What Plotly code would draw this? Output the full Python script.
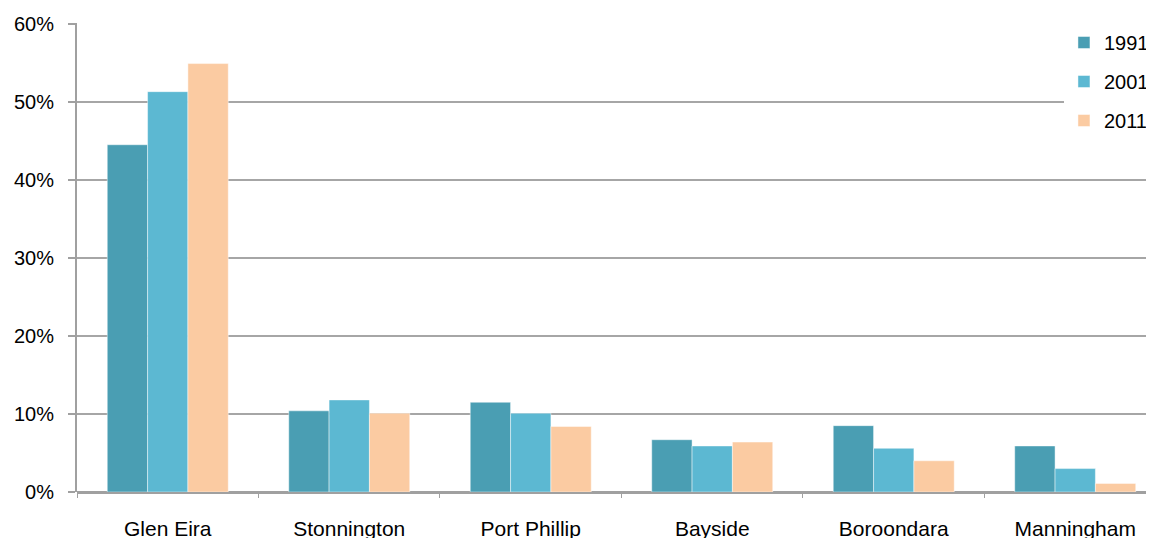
import plotly.graph_objects as go

categories = ["Glen Eira", "Stonnington", "Port Phillip", "Bayside", "Boroondara", "Manningham"]
years = ["1991", "2001", "2011"]
values_1991 = [0.445, 0.104, 0.115, 0.067, 0.085, 0.059]
values_2001 = [0.513, 0.118, 0.101, 0.059, 0.056, 0.030]
values_2011 = [0.549, 0.101, 0.084, 0.064, 0.040, 0.011]
series = [values_1991, values_2001, values_2011]
colors = ["#4A9EB3", "#5CB8D2", "#FBCBA2"]
y_ticks = [0, 0.1, 0.2, 0.3, 0.4, 0.5, 0.6]

fig = go.Figure()
for i, (yr, vals) in enumerate(zip(years, series)):
    fig.add_trace(go.Bar(
        x=categories, y=vals, name=yr,
        marker=dict(color=colors[i], line=dict(color="rgba(255,255,255,0.45)", width=1)),
        legendgroup=yr,
    ))

font = "Liberation Sans, Arial, sans-serif"
fig.update_layout(
    width=1146, height=530,
    margin=dict(l=69, r=0, t=15, b=46, autoexpand=False),
    paper_bgcolor="white", plot_bgcolor="white",
    barmode="group", bargap=1/3, bargroupgap=0,
    font=dict(family=font, size=20, color="#000000"),
    showlegend=True,
    legend=dict(x=0.9164, y=1.0, xanchor="left", yanchor="top",
                bgcolor="white", font=dict(size=20), tracegroupgap=10,
                itemwidth=30, borderwidth=0),
    xaxis=dict(range=[-0.5, 5.434], tickson="boundaries", ticks="outside",
               ticklen=5, tickcolor="#A0A0A0", tickwidth=1, showgrid=False,
               showline=False, zeroline=False, ticklabelstandoff=22,
               tickfont=dict(size=21)),
    yaxis=dict(range=[0, 0.601], tickvals=y_ticks, tickformat=".0%",
               showgrid=True, gridcolor="#A6A6A6", gridwidth=1.5,
               showline=True, linecolor="#A0A0A0", linewidth=2,
               ticks="outside", ticklen=7, tickcolor="#A0A0A0", tickwidth=1.5,
               zeroline=True, zerolinecolor="#A0A0A0", zerolinewidth=2.5,
               ticklabelstandoff=10),
)
fig.write_html("out.html")
